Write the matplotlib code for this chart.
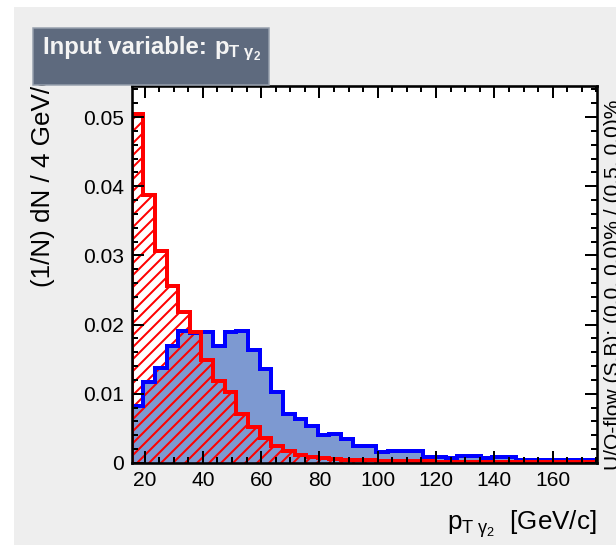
import matplotlib
matplotlib.use('Agg')
import matplotlib.pyplot as plt
import numpy as np
from matplotlib.patches import Rectangle
from matplotlib.ticker import MultipleLocator, FuncFormatter

plt.rcParams['font.family'] = ['Liberation Sans', 'DejaVu Sans']
plt.rcParams['mathtext.fontset'] = 'custom'
plt.rcParams['mathtext.rm'] = 'Liberation Sans'
plt.rcParams['mathtext.it'] = 'Liberation Sans'
plt.rcParams['mathtext.bf'] = 'Liberation Sans:bold'
plt.rcParams['hatch.linewidth'] = 2.0

# ---- data ----
x_min = 15.6
bin_width = 3.99
signal = [0.0083, 0.0117, 0.0137, 0.0169, 0.0191, 0.0188, 0.0190, 0.0169, 0.0189, 0.0191,
          0.0163, 0.0136, 0.0102, 0.0071, 0.0064, 0.0054, 0.0040, 0.0042, 0.0035, 0.0024,
          0.0024, 0.0016, 0.0017, 0.0017, 0.0017, 0.0009, 0.0008, 0.0007, 0.0010, 0.0010,
          0.0007, 0.0009, 0.0009, 0.0005, 0.0005, 0.0005, 0.0005, 0.0005, 0.0005, 0.0005]
background = [0.0505, 0.0387, 0.0307, 0.0256, 0.0218, 0.0189, 0.0149, 0.0119, 0.0102, 0.0071,
              0.0052, 0.0036, 0.0024, 0.0017, 0.0012, 0.0009, 0.0007, 0.0006, 0.0005, 0.0004,
              0.0004, 0.0003, 0.0003, 0.0003, 0.0003, 0.0003, 0.0002, 0.0002, 0.0002, 0.0002,
              0.0002, 0.0002, 0.0002, 0.0002, 0.0002, 0.0002, 0.0002, 0.0002, 0.0002, 0.0002]
edges = x_min + bin_width * np.arange(len(signal) + 1)

title_main = "Input variable: "
title_var = r"$\mathbf{p}_{\mathbf{T}\ \mathbf{\gamma}_{\mathbf{2}}}$"
xlabel_text = r"$\mathrm{p}_{\mathrm{T}\ \gamma_{2}}$  [GeV/c]"
ylabel_text = "(1/N) dN / 4 GeV/c"
overflow_text = "U/O-flow (S,B): (0.0, 0.0)% / (0.5, 0.0)%"

W, H = 616, 545
DPI = 72
fig = plt.figure(figsize=(W / DPI, H / DPI), dpi=DPI)
fig.patch.set_facecolor('white')

def fx(px):
    return px / W

def fy(py):
    return 1 - py / H

# grey canvas
fig.patches.append(Rectangle((fx(14), 0), 1 - fx(14), fy(7), transform=fig.transFigure,
                             facecolor='#eeeeee', edgecolor='none', zorder=-10))

left, right, top, bottom = 131.7, 597, 86, 463
ax = fig.add_axes([fx(left), fy(bottom), fx(right - left), (bottom - top) / H])
ax.set_facecolor('white')
ax.set_axisbelow(False)

# signal (blue, filled)
ax.stairs(signal, edges, baseline=0, fill=True, facecolor='#7d99d1', edgecolor='none', zorder=1)
# background hatch (red)
ax.stairs(background, edges, baseline=0, fill=True, facecolor='none', edgecolor='#ff0000',
          hatch='//', linewidth=0, zorder=1.2)
# outlines
ax.stairs(signal, edges, baseline=0, fill=False, color='#0000ff', linewidth=4, zorder=1.5)
ax.stairs(background, edges, baseline=0, fill=False, color='#ff0000', linewidth=4, zorder=1.6)

ax.set_xlim(edges[0], edges[-1])
ax.set_ylim(0, 0.0545)

ax.xaxis.set_major_locator(MultipleLocator(20))
ax.xaxis.set_minor_locator(MultipleLocator(5))
ax.yaxis.set_major_locator(MultipleLocator(0.01))
ax.yaxis.set_minor_locator(MultipleLocator(0.002))
ax.yaxis.set_major_formatter(FuncFormatter(lambda v, p: '0' if abs(v) < 1e-9 else f'{v:.2f}'))

ax.tick_params(which='both', direction='in', top=True, right=True, labelsize=21, color='black')
ax.tick_params(which='major', length=12, width=2)
ax.tick_params(which='minor', length=6, width=2)
ax.tick_params(axis='x', which='major', pad=8)
ax.tick_params(axis='y', which='major', pad=8)
for sp in ax.spines.values():
    sp.set_linewidth(2.6)
    sp.set_zorder(5)

# axis titles
fig.text(fx(597), fy(530), xlabel_text, ha='right', va='baseline', fontsize=26)
fig.text(fx(43), fy(287), ylabel_text, rotation=90, ha='center', va='bottom', fontsize=26)
fig.text(fx(604), fy(470), overflow_text, rotation=90, ha='left', va='bottom', fontsize=21)

# title box
fig.patches.append(Rectangle((fx(33), fy(85)), fx(269 - 33), (85 - 28) / H, transform=fig.transFigure,
                             facecolor='#5e6a7e', edgecolor='#97a0ad', linewidth=1.5, zorder=10))
t1 = fig.text(fx(43), fy(54), title_main, ha='left', va='baseline', fontsize=24,
              fontweight='bold', color='#f4f4f4', zorder=11)
fig.canvas.draw()
bb = t1.get_window_extent()
fig.text(bb.x1 / W, fy(54), title_var, ha='left', va='baseline', fontsize=24,
         color='#f4f4f4', zorder=11)

fig.savefig('out.png', dpi=DPI)
